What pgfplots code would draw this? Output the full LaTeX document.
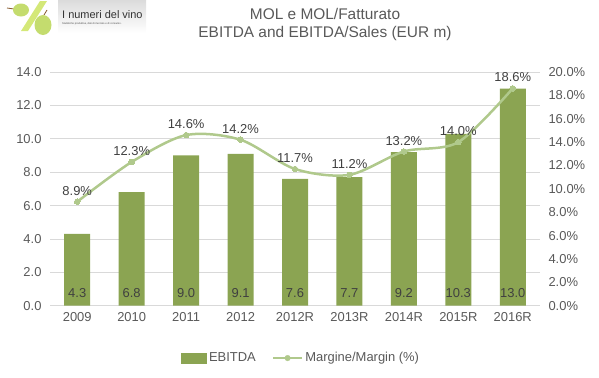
\documentclass[border=0pt]{standalone}
\usepackage{pgfplots}
\pgfplotsset{compat=1.18}
\usepackage{fontspec}
\setmainfont{Liberation Sans}
\definecolor{bargreen}{RGB}{139,164,82}
\definecolor{linegreen}{RGB}{176,201,140}
\definecolor{txt}{RGB}{89,89,89}
\definecolor{lbl}{RGB}{64,64,64}
\definecolor{gridc}{RGB}{217,217,217}
\definecolor{grape}{RGB}{196,220,110}
\definecolor{slash}{RGB}{212,232,120}
\begin{document}
\begin{tikzpicture}[x=1bp,y=1bp]
\useasboundingbox (0bp,0bp) rectangle (599bp,-378bp);
% logo
\shade[top color=gray!28, bottom color=white] (58bp,0bp) rectangle (146bp,-33bp);
\fill[slash] (40bp,-1bp) -- (47bp,-1bp) -- (28bp,-31bp) -- (21bp,-31bp) -- cycle;
\draw[brown!70!black, line width=0.8bp] (14bp,-9bp) -- (7bp,-8bp);
\fill[grape] (21bp,-10bp) ellipse (8bp and 6.5bp);
\draw[brown!70!black, line width=0.8bp] (44bp,-15bp) -- (47bp,-10bp);
\fill[grape] (43bp,-25bp) ellipse (8.5bp and 10bp);
\node[anchor=base west, inner sep=0, text=black!80, font=\fontsize{11}{12}\selectfont] at (62bp,-18bp) {I numeri del vino};
\node[anchor=base west, inner sep=0, text=black!70, font=\fontsize{2.6}{3}\selectfont] at (62bp,-24.5bp) {Statistiche produttive, dati di mercato e di consumo.};
% titles
\node[text=txt, font=\fontsize{15.5}{17}\selectfont] at (325bp,-14bp) {MOL e MOL/Fatturato};
\node[text=txt, font=\fontsize{15.5}{17}\selectfont] at (325bp,-34bp) {EBITDA and EBITDA/Sales (EUR m)};
\begin{axis}[
  at={(50bp,-305.7bp)}, anchor=south west,
  scale only axis, width=490bp, height=233.7bp,
  xmin=-0.5, xmax=8.5, ymin=0, ymax=14,
  xtick={0,...,8},
  xticklabels={2009,2010,2011,2012,2012R,2013R,2014R,2015R,2016R},
  ytick={0,2,...,14},
  /pgf/number format/assume math mode=true,
  yticklabel={\pgfmathprintnumber[fixed,fixed zerofill,precision=1]{\tick}},
  axis y line*=left, axis x line*=bottom,
  y axis line style={draw=none},
  x axis line style={draw=gridc, line width=0.8bp},
  major tick length=0pt,
  ymajorgrids, grid style={draw=gridc, line width=0.8bp},
  tick label style={text=txt, font=\fontsize{13}{14}\selectfont},
  yticklabel style={xshift=-5bp},
  xticklabel style={yshift=-3bp},
  clip=false,
  legend style={at={(0.512,-0.224)}, anchor=center, draw=none, fill=none,
    legend columns=2, font=\fontsize{13}{14}\selectfont, text=txt,
    /tikz/every even column/.append style={column sep=14bp}},
]
\addplot[ybar, bar width=26bp, fill=bargreen, draw=none,
  visualization depends on={y \as \rawy},
  nodes near coords={\pgfmathprintnumber[fixed,fixed zerofill,precision=1]{\pgfplotspointmeta}},
  every node near coord/.append style={anchor=base, text=lbl, font=\fontsize{13}{14}\selectfont,
    shift={(axis direction cs:0,-\rawy)}, yshift=8bp},
  forget plot]
  coordinates {(0,4.3) (1,6.8) (2,9.0) (3,9.1) (4,7.6) (5,7.7) (6,9.2) (7,10.3) (8,13.0)};
\addlegendimage{legend image code/.code={\fill[bargreen] (0bp,-5bp) rectangle (25bp,5bp); \path (26bp,0bp);}}
\addlegendentry{EBITDA}
\addlegendimage{legend image code/.code={\draw[linegreen, line width=2.5bp] (0bp,0bp) -- (29bp,0bp); \fill[linegreen] (14.5bp,0bp) circle (2.8bp);}}
\addlegendentry{Margine/Margin (\%)}
\end{axis}
\begin{axis}[
  at={(50bp,-305.7bp)}, anchor=south west,
  scale only axis, width=490bp, height=233.7bp,
  xmin=-0.5, xmax=8.5, ymin=0, ymax=20,
  ytick={0,2,...,20},
  /pgf/number format/assume math mode=true,
  yticklabel={\pgfmathprintnumber[fixed,fixed zerofill,precision=1]{\tick}\%},
  axis y line*=right, hide x axis,
  y axis line style={draw=none},
  major tick length=0pt,
  tick label style={text=txt, font=\fontsize{13}{14}\selectfont},
  yticklabel style={xshift=5bp},
  clip=false,
]
\addplot[linegreen, line width=2.5bp, smooth, tension=0.5, mark=*, mark size=2.8bp,
  mark options={fill=linegreen, draw=linegreen, line width=0pt},
  nodes near coords={\pgfmathprintnumber[fixed,fixed zerofill,precision=1]{\pgfplotspointmeta}\%},
  every node near coord/.append style={anchor=south, text=lbl, font=\fontsize{13}{14}\selectfont, yshift=3bp}]
  coordinates {(0,8.9) (1,12.3) (2,14.6) (3,14.2) (4,11.7) (5,11.2) (6,13.2) (7,14.0) (8,18.6)};
\end{axis}
\end{tikzpicture}
\end{document}
